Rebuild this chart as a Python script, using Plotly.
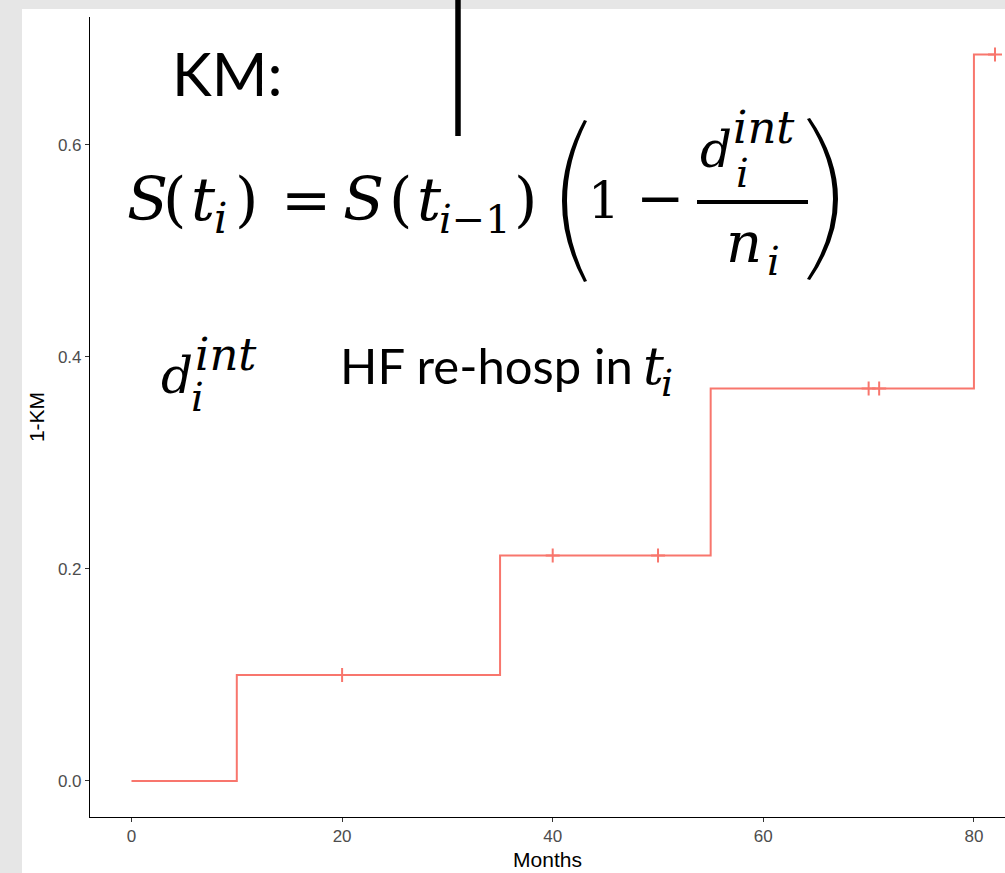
import plotly.graph_objects as go

# ---------------- data ----------------
event_times = [0, 10, 35, 55, 80]
cum_incidence = [0.0, 0.1, 0.2125, 0.37, 0.685]
last_followup = 82
censor_times = [20, 40, 50, 70, 71, 82]
censor_values = [0.1, 0.2125, 0.2125, 0.37, 0.37, 0.685]
x_ticks = [0, 20, 40, 60, 80]
y_ticks = [0.0, 0.2, 0.4, 0.6]
x_label = "Months"
y_label = "1-KM"

# ---------------- page geometry ----------------
W, H = 1005, 873
ML, MR, MT, MB = 90, 0, 17, 56
PW, PH = W - ML - MR, H - MT - MB


def px(x):
    return (x - ML) / PW


def py(y):
    return (H - MB - y) / PH


def P(x, y):
    return f"{px(x):.5f},{py(y):.5f}"


RED = "#F8766D"

fig = go.Figure()
step_x = event_times + [last_followup]
step_y = cum_incidence + [cum_incidence[-1]]
fig.add_trace(go.Scatter(x=step_x, y=step_y, mode="lines",
                         line=dict(shape="hv", color=RED, width=2),
                         showlegend=False, hoverinfo="skip"))
fig.add_trace(go.Scatter(x=censor_times, y=censor_values, mode="markers",
                         marker=dict(symbol="cross-thin", size=10, color=RED,
                                     line=dict(width=2, color=RED)),
                         showlegend=False, hoverinfo="skip"))

axis_common = dict(showline=True, linecolor="black", linewidth=1.1,
                   ticks="outside", ticklen=4, tickwidth=1.1, tickcolor="#333333",
                   tickfont=dict(family="Liberation Sans, Arial", size=17, color="#4d4d4d"),
                   showgrid=False, zeroline=False, fixedrange=True)

fig.update_xaxes(range=[-3.94, 82.95], tickvals=x_ticks,
                 title=dict(text=x_label, standoff=6,
                            font=dict(family="Liberation Sans, Arial", size=21, color="black")),
                 **axis_common)
fig.update_yaxes(range=[-0.034, 0.7204], tickvals=y_ticks, tickformat=".1f",
                 title=dict(text=y_label, standoff=7,
                            font=dict(family="Liberation Sans, Arial", size=21, color="black")),
                 **axis_common)

# ---------------- decorative slide text ----------------
SERIF = "DejaVu Serif"
SANS = "Lato"
K_SERIF = 0.346
K_SANS = 0.387

anns = []


def text(s, x, base, size, fam=SERIF, italic=False, k=None):
    if k is None:
        k = K_SERIF if fam == SERIF else K_SANS
    t = f"<i>{s}</i>" if italic else s
    anns.append(dict(text=t, x=px(x), y=py(base - k * size), xref="paper", yref="paper",
                     xanchor="left", yanchor="middle", showarrow=False,
                     borderpad=0, borderwidth=0,
                     font=dict(family=fam, size=size, color="black")))


MAIN = 60
text("KM:", 172, 96, 60, fam=SANS)
# S(t_i) = S(t_{i-1})
text("S", 127, 220, MAIN, italic=True)
text("(", 163, 220, MAIN)
text("t", 191, 220, MAIN, italic=True)
text("i", 214, 233, 42, italic=True)
text(")", 235, 220, MAIN)
text("=", 281, 220, MAIN)
text("S", 343, 220, MAIN, italic=True)
text("(", 389, 220, MAIN)
text("t", 417, 220, MAIN, italic=True)
text("<i>i</i>−1", 439, 233, 40)
text(")", 514, 220, MAIN)
# 1 - d/n
text("1", 588, 218, 50)
text("−", 636, 218, 58)
text("d", 700, 167, 50, italic=True)
text("int", 733, 143, 45, italic=True)
text("i", 736, 187, 40, italic=True)
text("n", 726, 262, 56, italic=True)
text("i", 767, 275, 40, italic=True)
# second line
text("d", 161, 393, 50, italic=True)
text("int", 195, 370, 45, italic=True)
text("i", 191, 411, 40, italic=True)
text("HF re-hosp in", 340, 384, 49, fam=SANS)
text("t", 643, 384, 52, italic=True)
text("i", 661, 396, 38, italic=True)

shapes = [
    # slide background strips
    dict(type="rect", xref="paper", yref="paper", x0=px(0), x1=px(22), y0=py(H), y1=py(0),
         fillcolor="#e6e6e6", line=dict(width=0), layer="below"),
    dict(type="rect", xref="paper", yref="paper", x0=px(0), x1=px(W), y0=py(9), y1=py(0),
         fillcolor="#e6e6e6", line=dict(width=0), layer="below"),
    # black vertical bar
    dict(type="line", xref="paper", yref="paper", x0=px(458), x1=px(458), y0=py(0), y1=py(136),
         line=dict(color="black", width=5.5)),
    # fraction bar
    dict(type="line", xref="paper", yref="paper", x0=px(697), x1=px(808), y0=py(202), y1=py(202),
         line=dict(color="black", width=4)),
    # big parentheses
    dict(type="path", xref="paper", yref="paper",
         path=f"M {P(584,120)} Q {P(540,201)} {P(584,282)} L {P(587,281)} Q {P(547,201)} {P(587,121)} Z",
         fillcolor="black", line=dict(width=0)),
    dict(type="path", xref="paper", yref="paper",
         path=f"M {P(810,118)} Q {P(866,199)} {P(810,280)} L {P(807,279)} Q {P(859,199)} {P(807,119)} Z",
         fillcolor="black", line=dict(width=0)),
]

fig.update_layout(width=W, height=H, margin=dict(l=ML, r=MR, t=MT, b=MB),
                  paper_bgcolor="white", plot_bgcolor="white",
                  annotations=anns, shapes=shapes, showlegend=False)

fig.write_html("out.html", config={"displayModeBar": False},
               post_script="document.body.style.margin='0';document.body.style.overflow='hidden';")
